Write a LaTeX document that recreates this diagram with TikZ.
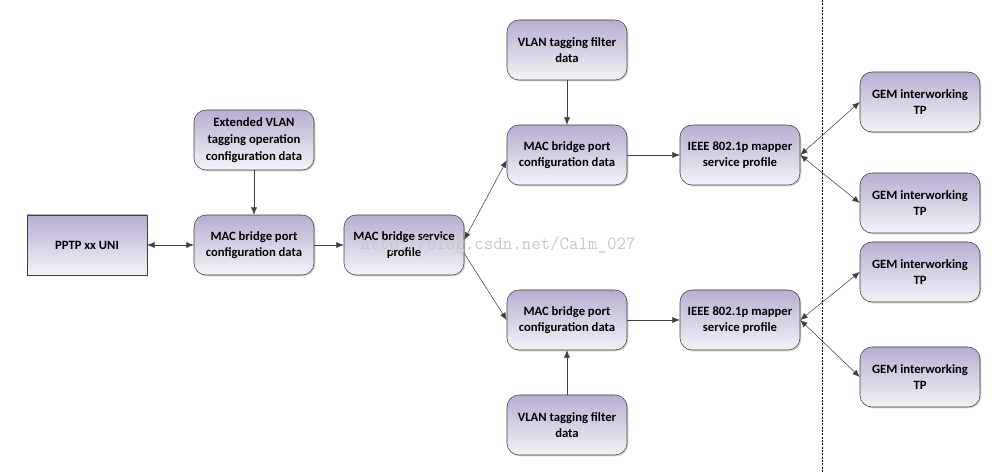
\documentclass[tikz,border=0pt]{standalone}
\usepackage{fontspec}
\setmainfont{Carlito}
\usetikzlibrary{arrows.meta,shadows}

\definecolor{boxtop}{RGB}{184,174,210}
\definecolor{boxbot}{RGB}{244,243,247}
\definecolor{edgegray}{RGB}{64,64,64}

\begin{document}
\begin{tikzpicture}[
            x = 0.75pt, y = -0.75pt,
            font = \bfseries\fontsize{9.5}{12.5}\selectfont,
            block/.style = {draw = edgegray, rounded corners = 9pt, align = center,
                            minimum width = 90pt, minimum height = 45pt,
                            top color = boxtop, bottom color = boxbot,
                            drop shadow = {shadow xshift = 1pt, shadow yshift = -1pt, opacity = 0.35}},
            plain/.style = {block, rounded corners = 0pt},
            link/.style = {draw = edgegray, -{Latex[length = 5.5pt, width = 4.5pt]}},
            both/.style = {link, {Latex[length = 5.5pt, width = 4.5pt]}-{Latex[length = 5.5pt, width = 4.5pt]}}
            ]
            \useasboundingbox (0,0) rectangle (997,473);
            % left part
            \node[plain] (uni) at (87,245) {PPTP xx UNI};
            \node[block] (ext) at (254,140) {Extended VLAN\\tagging operation\\configuration data};
            \node[block] (port) at (254,245) {MAC bridge port\\configuration data};
            \node[block] (serv) at (404,245) {MAC bridge service\\profile};
            % upper branch
            \node[block] (filtA) at (567,50) {VLAN tagging filter\\data};
            \node[block] (portA) at (567,155) {MAC bridge port\\configuration data};
            \node[block] (mapA) at (740,155) {IEEE 802.1p mapper\\service profile};
            \node[block] (gemA) at (920,102) {GEM interworking\\TP};
            \node[block] (gemB) at (920,203) {GEM interworking\\TP};
            % lower branch
            \node[block] (portB) at (567,320) {MAC bridge port\\configuration data};
            \node[block] (filtB) at (567,425) {VLAN tagging filter\\data};
            \node[block] (mapB) at (740,320) {IEEE 802.1p mapper\\service profile};
            \node[block] (gemC) at (920,272) {GEM interworking\\TP};
            \node[block] (gemD) at (920,377) {GEM interworking\\TP};

            \draw[both] (uni) -- (port);
            \draw[link] (ext) -- (port);
            \draw[link] (port) -- (serv);
            \draw[both] (serv.5) -- (portA.185);
            \draw[link] (serv.-8) -- (portB.west);
            \draw[link] (filtA) -- (portA);
            \draw[link] (filtB) -- (portB);
            \draw[link] (portA) -- (mapA);
            \draw[link] (portB) -- (mapB);
            \draw[both] (mapA.east) -- (gemA.west);
            \draw[both] (mapA.east) -- (gemB.west);
            \draw[both] (mapB.east) -- (gemC.west);
            \draw[both] (mapB.east) -- (gemD.west);

            \coordinate (cutT) at (822,0);
            \coordinate (cutB) at (822,473);
            \draw[dash pattern = on 1.5pt off 1pt, semithick] (cutT) -- (cutB);

            \node[anchor = west, font = \ttfamily\fontsize{13.8}{15}\selectfont, text = black!22] (mark) at (356,245) {http://blog.csdn.net/Calm\_027};
          \end{tikzpicture}
\end{document}
